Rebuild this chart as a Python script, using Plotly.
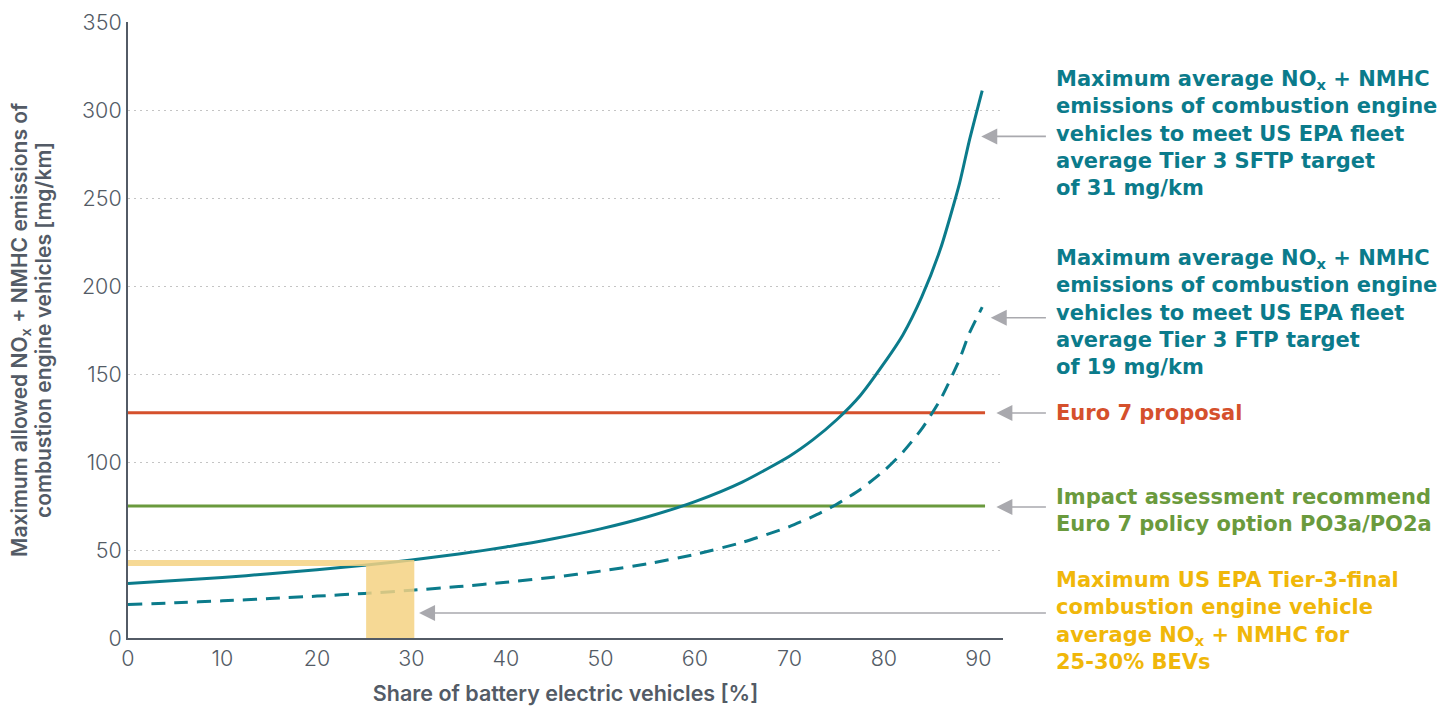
import plotly.graph_objects as go

# ---- data ----
bev_share = [0, 5, 10, 15, 20, 25, 30, 35, 40, 45, 50, 55, 60, 65, 70, 72.5, 75, 77.5, 80, 82, 84, 86, 88, 89, 90.4]
sftp_limit = [31, 32.6, 34.4, 36.5, 38.8, 41.3, 44.3, 47.7, 51.7, 56.4, 62.0, 68.9, 77.5, 88.6, 103.3, 112.7,
              124.0, 137.8, 156.0, 172.2, 193.8, 221.4, 258.3, 281.8, 311]
ftp_limit = [19, 20.0, 21.1, 22.4, 23.8, 25.3, 27.1, 29.2, 31.7, 34.5, 38.0, 42.2, 47.5, 54.3, 63.3, 69.1,
             76.0, 84.4, 95.0, 105.6, 118.8, 135.7, 158.3, 172.7, 188]
euro7_x = [0, 90.7]
euro7_y = [128, 128]
po3a_x = [0, 90.7]
po3a_y = [75, 75]
tier3_band_x = [0, 30.3]
tier3_band_y = [40.9, 44.3]
tier3_bev_range = [25.2, 30.3]

x_ticks = [0, 10, 20, 30, 40, 50, 60, 70, 80, 90]
y_ticks = [0, 50, 100, 150, 200, 250, 300, 350]
y_title_lines = ["Maximum allowed NO<sub>x</sub> + NMHC emissions of", "combustion engine vehicles [mg/km]"]

TEAL = "#0B7B8B"
RED = "#D5502C"
GREEN = "#6A9A3D"
YEL_FILL = "#F5D282"
YEL_TEXT = "#F0B70A"
GRAY = "#A9A9AE"
AXIS = "#535B66"
TICK_FONT = "Inter"
LABEL_FONT = "DejaVu Sans"

fig = go.Figure()

fig.add_trace(go.Scatter(x=euro7_x, y=euro7_y, mode="lines", line=dict(color=RED, width=3), hoverinfo="skip"))
fig.add_trace(go.Scatter(x=po3a_x, y=po3a_y, mode="lines", line=dict(color=GREEN, width=3), hoverinfo="skip"))
fig.add_trace(go.Scatter(x=bev_share, y=sftp_limit, mode="lines",
                         line=dict(color=TEAL, width=3, shape="spline", smoothing=0.6), hoverinfo="skip"))
fig.add_trace(go.Scatter(x=bev_share, y=ftp_limit, mode="lines",
                         line=dict(color=TEAL, width=3, dash="14px,9px", shape="spline", smoothing=0.6),
                         hoverinfo="skip"))

shapes = [
    dict(type="rect", xref="x", yref="y", x0=tier3_band_x[0], x1=tier3_band_x[1],
         y0=tier3_band_y[0], y1=tier3_band_y[1], fillcolor=YEL_FILL, line_width=0, layer="above", opacity=0.85),
    dict(type="rect", xref="x", yref="y", x0=tier3_bev_range[0], x1=tier3_bev_range[1],
         y0=0, y1=tier3_band_y[0], fillcolor=YEL_FILL, line_width=0, layer="above", opacity=0.85),
]

annotations = []
# arrows (head x, y, tail x) in data coords
arrows = [
    (90.3, 285, 97.3),
    (91.3, 182, 97.3),
    (91.9, 127.8, 97.3),
    (91.9, 74.4, 97.3),
    (30.8, 14.2, 97.3),
]
for hx, hy, tx in arrows:
    annotations.append(dict(x=hx, y=hy, xref="x", yref="y", ax=tx, ay=hy, axref="x", ayref="y",
                            text="", showarrow=True, arrowhead=2, arrowsize=2, arrowwidth=1.6,
                            arrowcolor=GRAY))

labels = [
    ("Maximum average NO<sub>x</sub> + NMHC<br>emissions of combustion engine<br>vehicles to meet US EPA fleet<br>average Tier 3 SFTP target<br>of 31 mg/km", 286.6, TEAL),
    ("Maximum average NO<sub>x</sub> + NMHC<br>emissions of combustion engine<br>vehicles to meet US EPA fleet<br>average Tier 3 FTP target<br>of 19 mg/km", 184.7, TEAL),
    ("Euro 7 proposal", 127.8, RED),
    ("Impact assessment recommend<br>Euro 7 policy option PO3a/PO2a", 72.7, GREEN),
    ("Maximum US EPA Tier-3-final<br>combustion engine vehicle<br>average NO<sub>x</sub> + NMHC for<br>25-30% BEVs", 9.4, YEL_TEXT),
]
for txt, yv, col in labels:
    annotations.append(dict(x=1.058, y=yv, xref="paper", yref="y", text=txt, showarrow=False,
                            xanchor="left", yanchor="middle", align="left",
                            font=dict(family=LABEL_FONT, size=21, color=col, weight="bold")))

# y-axis title, two rotated lines
for line_txt, px in zip(y_title_lines, [-0.1223, -0.0971]):
    annotations.append(dict(x=px, y=0.5, xref="paper", yref="paper", text=line_txt, showarrow=False,
                            textangle=-90, xanchor="center", yanchor="middle",
                            font=dict(family=TICK_FONT, size=21, color=AXIS, weight=600)))

# page body has an 8px margin, so the figure is shrunk by 8px and margins shifted
fig.update_layout(
    width=1444, height=701,
    margin=dict(l=120, r=449, t=14, b=71),
    plot_bgcolor="white", paper_bgcolor="white",
    showlegend=False,
    shapes=shapes,
    annotations=annotations,
    font=dict(family=TICK_FONT, color=AXIS),
    xaxis=dict(range=[0, 92.6], tickvals=x_ticks, showgrid=False, zeroline=False, automargin=False,
               showline=True, linecolor=AXIS, linewidth=2, ticks="", ticklen=0,
               tickfont=dict(size=21.5, color=AXIS, family=TICK_FONT, weight=300),
               title=dict(text="Share of battery electric vehicles [%]", standoff=16,
                          font=dict(size=21.5, color=AXIS, family=TICK_FONT, weight=600))),
    yaxis=dict(range=[0, 350], tickvals=y_ticks, showgrid=True, gridcolor="#C4C4C4", griddash="2px,4px",
               gridwidth=1.3, zeroline=False, showline=True, linecolor=AXIS, linewidth=2, ticks="",
               automargin=False,
               tickfont=dict(size=21.5, color=AXIS, family=TICK_FONT, weight=300)),
)

fig.write_html("out.html")
